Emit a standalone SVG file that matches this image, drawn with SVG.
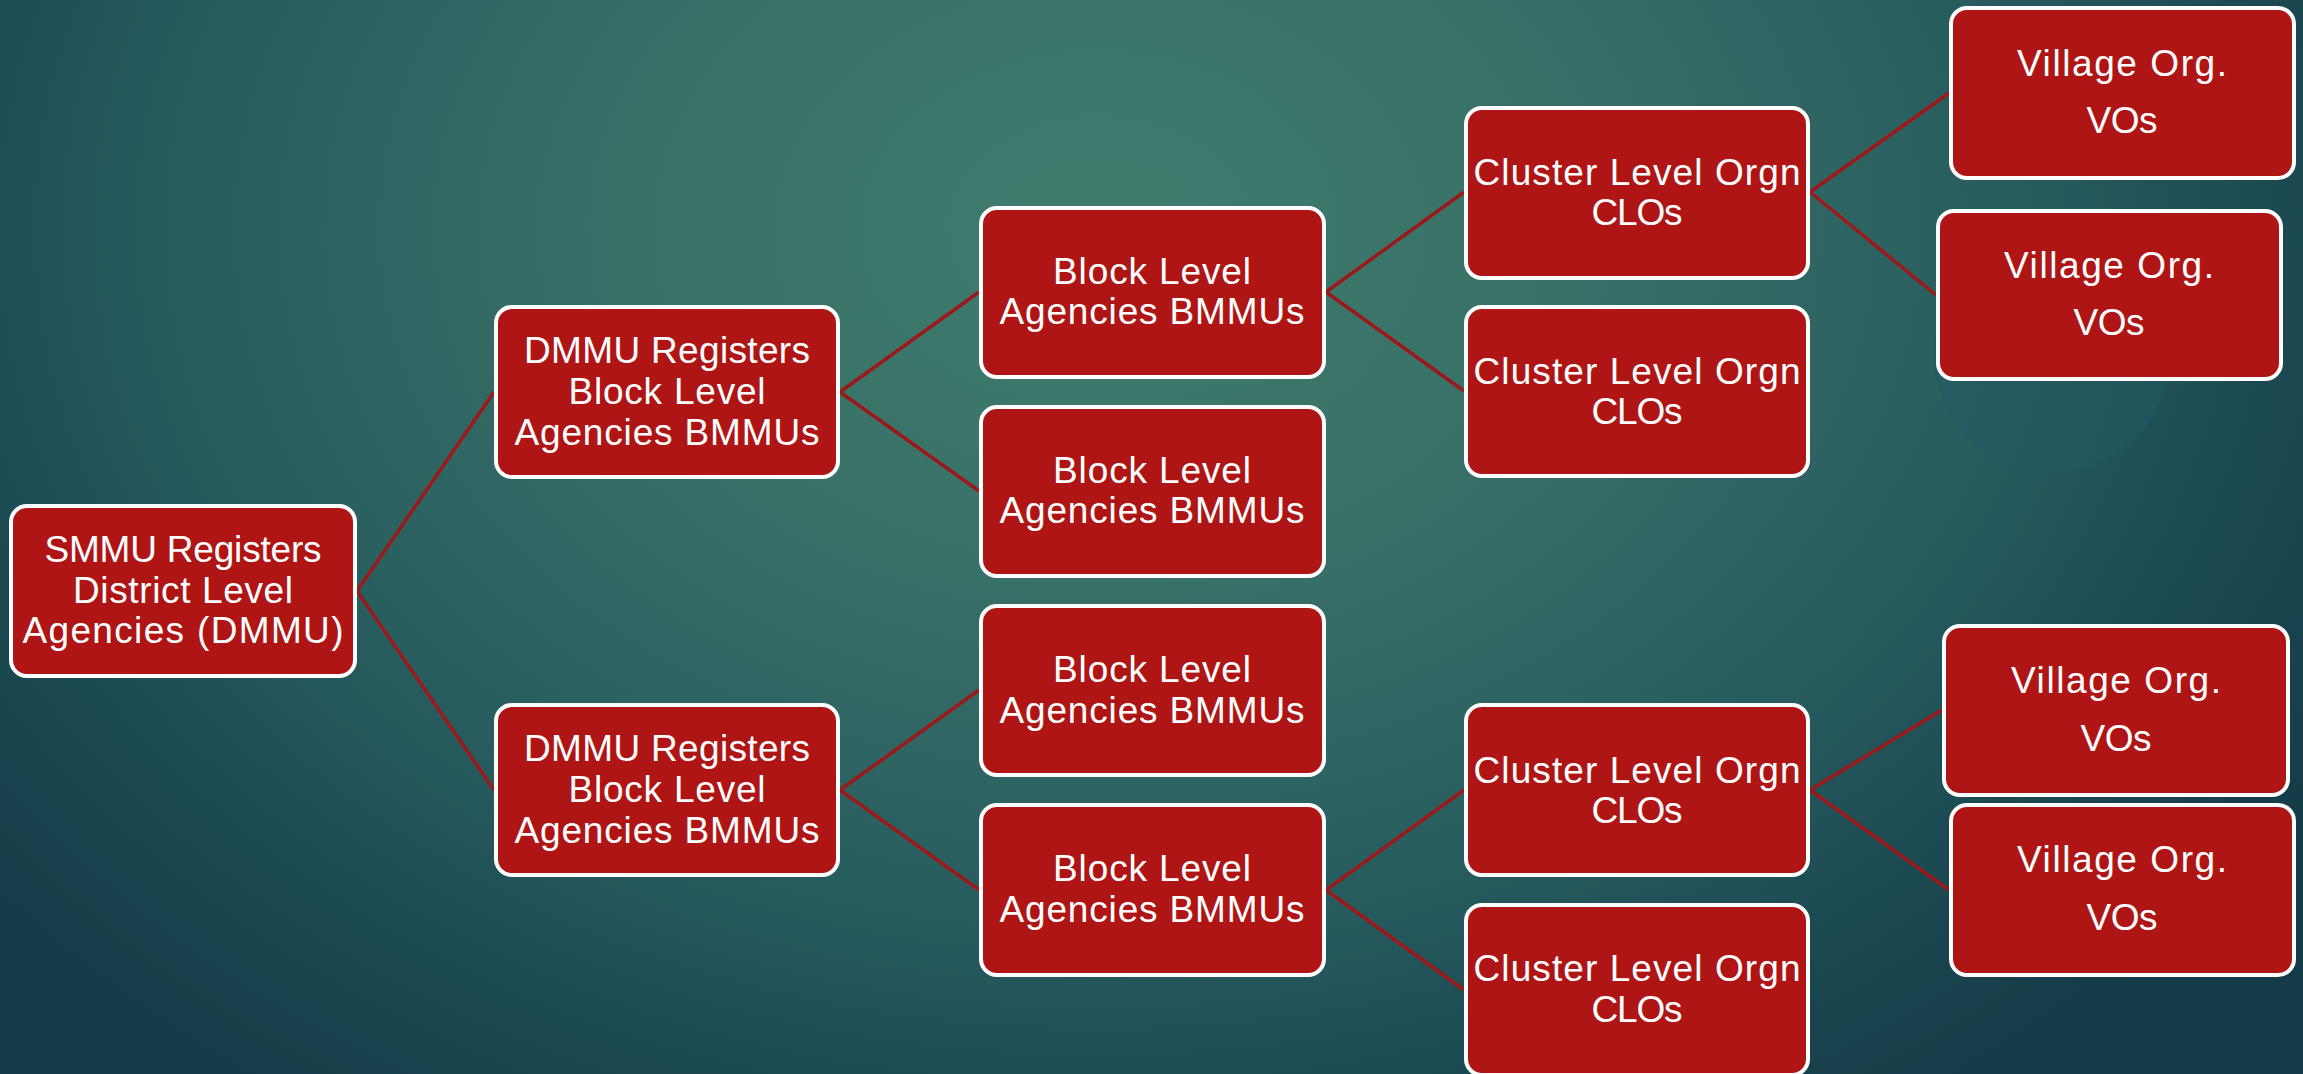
<svg xmlns="http://www.w3.org/2000/svg" width="2303" height="1074" viewBox="0 0 2303 1074">
<defs>
<radialGradient id="bg" gradientUnits="userSpaceOnUse" cx="1100" cy="230" r="1450" gradientTransform="translate(1100 230) scale(1 0.75) translate(-1100 -230)">
<stop offset="0" stop-color="#3f7c6e"/>
<stop offset="0.3" stop-color="#397268"/>
<stop offset="0.62" stop-color="#285d5f"/>
<stop offset="0.85" stop-color="#1a4650"/>
<stop offset="1" stop-color="#143b48"/>
</radialGradient>
<style>
.box{fill:#b01515;stroke:#ffffff;stroke-width:4}
.t{font-family:"Liberation Sans",Arial,sans-serif;font-size:37px;fill:#ffffff;text-anchor:middle}
.c{stroke:#9b1919;stroke-width:3.5;fill:none}
</style>
</defs>
<rect x="0" y="0" width="2303" height="1074" fill="url(#bg)"/>
<circle cx="2052" cy="355" r="118" fill="#235a63" opacity="0.55"/>
<g id="connectors">
<line class="c" x1="357" y1="591" x2="494" y2="392"/>
<line class="c" x1="357" y1="591" x2="494" y2="790"/>
<line class="c" x1="840" y1="392" x2="979" y2="292"/>
<line class="c" x1="840" y1="392" x2="979" y2="491"/>
<line class="c" x1="840" y1="790" x2="979" y2="690"/>
<line class="c" x1="840" y1="790" x2="979" y2="890"/>
<line class="c" x1="1326" y1="292" x2="1464" y2="192"/>
<line class="c" x1="1326" y1="292" x2="1464" y2="391"/>
<line class="c" x1="1326" y1="890" x2="1464" y2="790"/>
<line class="c" x1="1326" y1="890" x2="1464" y2="990"/>
<line class="c" x1="1810" y1="192" x2="1949" y2="93"/>
<line class="c" x1="1810" y1="192" x2="1936" y2="295"/>
<line class="c" x1="1810" y1="790" x2="1942" y2="710"/>
<line class="c" x1="1810" y1="790" x2="1949" y2="890"/>
</g>
<g id="smmu">
<rect class="box" x="11" y="506" width="344" height="170" rx="16"/>
<text class="t" x="183" y="562" textLength="277">SMMU Registers</text>
<text class="t" x="183" y="603" textLength="220">District Level</text>
<text class="t" x="183" y="643" textLength="321">Agencies (DMMU)</text>
</g>
<g id="dmmu1">
<rect class="box" x="496" y="307" width="342" height="170" rx="16"/>
<text class="t" x="667" y="363" textLength="286">DMMU Registers</text>
<text class="t" x="667" y="404" textLength="197">Block Level</text>
<text class="t" x="667" y="445" textLength="305">Agencies BMMUs</text>
</g>
<g id="dmmu2">
<rect class="box" x="496" y="705" width="342" height="170" rx="16"/>
<text class="t" x="667" y="761" textLength="286">DMMU Registers</text>
<text class="t" x="667" y="802" textLength="197">Block Level</text>
<text class="t" x="667" y="843" textLength="305">Agencies BMMUs</text>
</g>
<g id="block1">
<rect class="box" x="981" y="208" width="343" height="169" rx="16"/>
<text class="t" x="1152" y="284" textLength="198">Block Level</text>
<text class="t" x="1152" y="324" textLength="305">Agencies BMMUs</text>
</g>
<g id="block2">
<rect class="box" x="981" y="407" width="343" height="169" rx="16"/>
<text class="t" x="1152" y="483" textLength="198">Block Level</text>
<text class="t" x="1152" y="523" textLength="305">Agencies BMMUs</text>
</g>
<g id="block3">
<rect class="box" x="981" y="606" width="343" height="169" rx="16"/>
<text class="t" x="1152" y="682" textLength="198">Block Level</text>
<text class="t" x="1152" y="723" textLength="305">Agencies BMMUs</text>
</g>
<g id="block4">
<rect class="box" x="981" y="805" width="343" height="170" rx="16"/>
<text class="t" x="1152" y="881" textLength="198">Block Level</text>
<text class="t" x="1152" y="922" textLength="305">Agencies BMMUs</text>
</g>
<g id="clo1">
<rect class="box" x="1466" y="108" width="342" height="170" rx="16"/>
<text class="t" x="1637" y="185" textLength="327">Cluster Level Orgn</text>
<text class="t" x="1637" y="225" textLength="91">CLOs</text>
</g>
<g id="clo2">
<rect class="box" x="1466" y="307" width="342" height="169" rx="16"/>
<text class="t" x="1637" y="384" textLength="327">Cluster Level Orgn</text>
<text class="t" x="1637" y="424" textLength="91">CLOs</text>
</g>
<g id="clo3">
<rect class="box" x="1466" y="705" width="342" height="170" rx="16"/>
<text class="t" x="1637" y="783" textLength="327">Cluster Level Orgn</text>
<text class="t" x="1637" y="823" textLength="91">CLOs</text>
</g>
<g id="clo4">
<rect class="box" x="1466" y="905" width="342" height="170" rx="16"/>
<text class="t" x="1637" y="981" textLength="327">Cluster Level Orgn</text>
<text class="t" x="1637" y="1022" textLength="91">CLOs</text>
</g>
<g id="vo1">
<rect class="box" x="1951" y="8" width="343" height="170" rx="16"/>
<text class="t" x="2122" y="76" textLength="210">Village Org.</text>
<text class="t" x="2122" y="133" textLength="71">VOs</text>
</g>
<g id="vo2">
<rect class="box" x="1938" y="211" width="343" height="168" rx="16"/>
<text class="t" x="2109" y="278" textLength="210">Village Org.</text>
<text class="t" x="2109" y="335" textLength="71">VOs</text>
</g>
<g id="vo3">
<rect class="box" x="1944" y="626" width="344" height="169" rx="16"/>
<text class="t" x="2116" y="693" textLength="210">Village Org.</text>
<text class="t" x="2116" y="751" textLength="71">VOs</text>
</g>
<g id="vo4">
<rect class="box" x="1951" y="805" width="343" height="170" rx="16"/>
<text class="t" x="2122" y="872" textLength="210">Village Org.</text>
<text class="t" x="2122" y="930" textLength="71">VOs</text>
</g>
</svg>
